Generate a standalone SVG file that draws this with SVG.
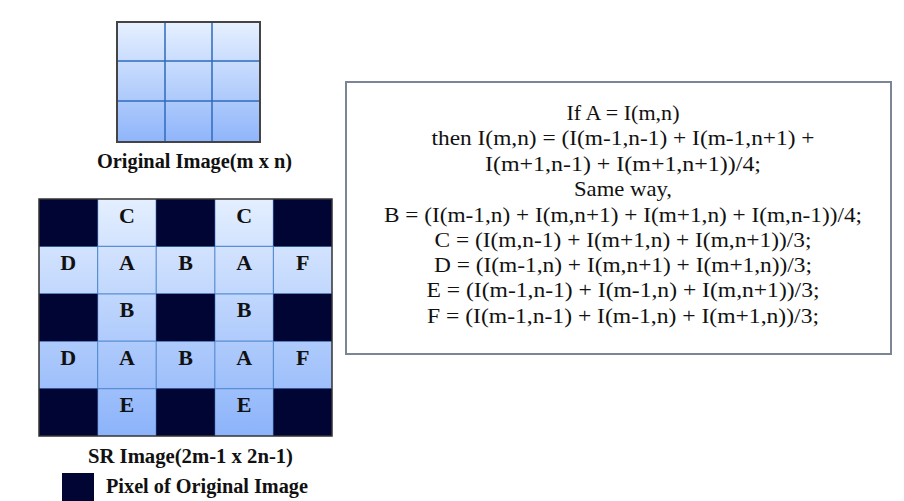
<svg xmlns="http://www.w3.org/2000/svg" width="904" height="501" viewBox="0 0 904 501">
<defs>
<linearGradient id="gTop" gradientUnits="userSpaceOnUse" x1="0" y1="22" x2="0" y2="142">
<stop offset="0" stop-color="#e6f0ff"/>
<stop offset="1" stop-color="#8fb5fa"/>
</linearGradient>
<linearGradient id="gSR" gradientUnits="userSpaceOnUse" x1="0" y1="199" x2="0" y2="436">
<stop offset="0" stop-color="#e4efff"/>
<stop offset="1" stop-color="#8cb3fa"/>
</linearGradient>
<style>
.lbl{font-family:"Liberation Serif","DejaVu Serif",serif;font-weight:bold;fill:#111;}
.cell{font-family:"Liberation Serif","DejaVu Serif",serif;font-weight:bold;font-size:22px;fill:#111;text-anchor:middle;}
.eq{font-family:"Liberation Serif","DejaVu Serif",serif;font-size:22px;fill:#111;text-anchor:middle;}
.dark{fill:#000533;}
.gl{stroke:#5a8ed3;stroke-width:1.2;fill:none;}
.tl{stroke:#2f6bbd;stroke-width:1.5;fill:none;}
</style>
</defs>
<rect width="904" height="501" fill="#ffffff"/>

<g id="original-image">
<rect x="117" y="22" width="143" height="120" fill="url(#gTop)"/>
<path class="tl" d="M165 22V142M212 22V142M117 61H260M117 101H260"/>
<rect x="117" y="22" width="143" height="120" fill="none" stroke="#444" stroke-width="2"/>
<text class="lbl" x="194.5" y="168" font-size="20" text-anchor="middle" textLength="195" lengthAdjust="spacingAndGlyphs">Original Image(m x n)</text>
</g>

<g id="sr-image">
<rect x="39" y="199" width="293" height="237" fill="url(#gSR)"/>
<path class="gl" d="M97.6 199V436M156.2 199V436M214.8 199V436M273.4 199V436M39 246.4H332M39 293.8H332M39 341.2H332M39 388.6H332"/>
<rect class="dark" x="39" y="199" width="58.6" height="47.4"/>
<rect class="dark" x="156.2" y="199" width="58.6" height="47.4"/>
<rect class="dark" x="273.4" y="199" width="58.6" height="47.4"/>
<rect class="dark" x="39" y="293.8" width="58.6" height="47.4"/>
<rect class="dark" x="156.2" y="293.8" width="58.6" height="47.4"/>
<rect class="dark" x="273.4" y="293.8" width="58.6" height="47.4"/>
<rect class="dark" x="39" y="388.6" width="58.6" height="47.4"/>
<rect class="dark" x="156.2" y="388.6" width="58.6" height="47.4"/>
<rect class="dark" x="273.4" y="388.6" width="58.6" height="47.4"/>
<rect x="39" y="199" width="293" height="237" fill="none" stroke="#333" stroke-width="1.5"/>
<text class="cell" x="126.9" y="223">C</text>
<text class="cell" x="244.1" y="223">C</text>
<text class="cell" x="68.3" y="270">D</text>
<text class="cell" x="126.9" y="270">A</text>
<text class="cell" x="185.5" y="270">B</text>
<text class="cell" x="244.1" y="270">A</text>
<text class="cell" x="302.7" y="270">F</text>
<text class="cell" x="126.9" y="317">B</text>
<text class="cell" x="244.1" y="317">B</text>
<text class="cell" x="68.3" y="365">D</text>
<text class="cell" x="126.9" y="365">A</text>
<text class="cell" x="185.5" y="365">B</text>
<text class="cell" x="244.1" y="365">A</text>
<text class="cell" x="302.7" y="365">F</text>
<text class="cell" x="126.9" y="412">E</text>
<text class="cell" x="244.1" y="412">E</text>
<text class="lbl" x="190.5" y="463" font-size="20" text-anchor="middle" textLength="205" lengthAdjust="spacingAndGlyphs">SR Image(2m-1 x 2n-1)</text>
</g>

<g id="legend">
<rect class="dark" x="62" y="473" width="32" height="30"/>
<text class="lbl" x="106" y="493" font-size="20" textLength="202" lengthAdjust="spacingAndGlyphs">Pixel of Original Image</text>
</g>

<g id="formula-box">
<rect x="346" y="82" width="545" height="272" fill="#ffffff" stroke="#7b8594" stroke-width="2"/>
<text class="eq" x="623" y="120" textLength="113" lengthAdjust="spacingAndGlyphs">If A = I(m,n)</text>
<text class="eq" x="623" y="145.3" textLength="383" lengthAdjust="spacingAndGlyphs">then I(m,n) = (I(m-1,n-1) + I(m-1,n+1) +</text>
<text class="eq" x="623" y="170.6" textLength="276" lengthAdjust="spacingAndGlyphs">I(m+1,n-1) + I(m+1,n+1))/4;</text>
<text class="eq" x="623" y="196" textLength="98" lengthAdjust="spacingAndGlyphs">Same way,</text>
<text class="eq" x="623" y="221.5" textLength="478" lengthAdjust="spacingAndGlyphs">B = (I(m-1,n) + I(m,n+1) + I(m+1,n) + I(m,n-1))/4;</text>
<text class="eq" x="623" y="246.8" textLength="377" lengthAdjust="spacingAndGlyphs">C = (I(m,n-1) + I(m+1,n) + I(m,n+1))/3;</text>
<text class="eq" x="623" y="272" textLength="378" lengthAdjust="spacingAndGlyphs">D = (I(m-1,n) + I(m,n+1) + I(m+1,n))/3;</text>
<text class="eq" x="623" y="297.3" textLength="393" lengthAdjust="spacingAndGlyphs">E = (I(m-1,n-1) + I(m-1,n) + I(m,n+1))/3;</text>
<text class="eq" x="623" y="322.6" textLength="392" lengthAdjust="spacingAndGlyphs">F = (I(m-1,n-1) + I(m-1,n) + I(m+1,n))/3;</text>
</g>
</svg>
